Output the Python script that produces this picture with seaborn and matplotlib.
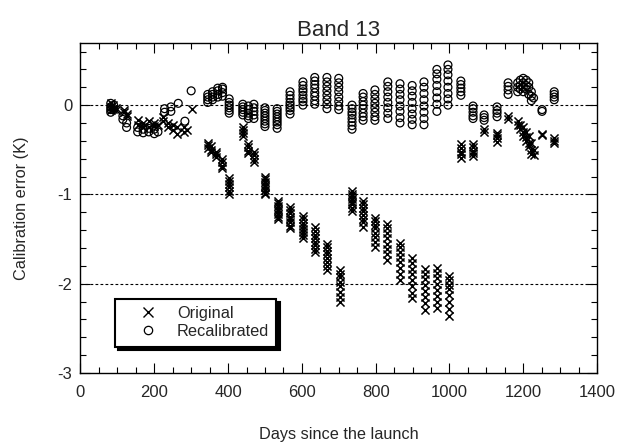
import matplotlib
matplotlib.use("Agg")
import matplotlib.pyplot as plt
from matplotlib.lines import Line2D
from matplotlib.ticker import MultipleLocator
import seaborn as sns
import pandas as pd

# ---------------- data ----------------
orig_days = [
    82, 82, 82, 88, 88, 95, 95,
    118, 118, 125, 125,
    155, 155, 170, 170, 185, 185, 200, 200, 210,
    225, 225, 238, 238, 250, 250, 262, 262,
    280, 280, 290,
    302,
    345, 345, 345, 355, 355, 355, 368, 368, 368, 383, 383, 383, 383,
    403, 403, 403, 403, 403, 403,
    440, 440, 440, 440, 455, 455, 455, 455, 470, 470, 470, 470,
    500, 500, 500, 500, 500, 500, 500, 500,
    535, 535, 535, 535, 535, 535, 535, 535,
    568, 568, 568, 568, 568, 568, 568, 568,
    603, 603, 603, 603, 603, 603, 603, 603,
    636, 636, 636, 636, 636, 636, 636, 636,
    668, 668, 668, 668, 668, 668, 668, 668,
    703, 703, 703, 703, 703, 703, 703, 703,
    735, 735, 735, 735, 735, 735, 735, 735,
    766, 766, 766, 766, 766, 766, 766, 766,
    798, 798, 798, 798, 798, 798, 798, 798,
    832, 832, 832, 832, 832, 832, 832, 832,
    866, 866, 866, 866, 866, 866, 866, 866,
    899, 899, 899, 899, 899, 899, 899, 899,
    934, 934, 934, 934, 934, 934, 934, 934,
    966, 966, 966, 966, 966, 966, 966, 966,
    1000, 1000, 1000, 1000, 1000, 1000, 1000, 1000,
    1030, 1030, 1030, 1030, 1030,
    1064, 1064, 1064, 1064, 1064,
    1094, 1094,
    1129, 1129, 1129, 1129,
    1159, 1159,
    1185, 1185, 1192, 1192, 1200, 1200, 1200, 1208, 1208, 1208,
    1215, 1215, 1215, 1222, 1222, 1222, 1228, 1228,
    1251, 1251,
    1284, 1284, 1284,
]
orig_vals = [
    0.02, -0.02, -0.05, 0.0, -0.04, -0.03, -0.06,
    -0.05, -0.08, -0.10, -0.12,
    -0.17, -0.22, -0.20, -0.25, -0.18, -0.24, -0.20, -0.23, -0.22,
    -0.13, -0.18, -0.20, -0.25, -0.22, -0.28, -0.25, -0.32,
    -0.24, -0.30, -0.28,
    -0.04,
    -0.42, -0.45, -0.48, -0.46, -0.50, -0.53, -0.52, -0.55, -0.58, -0.60, -0.64, -0.68, -0.70,
    -0.82, -0.85, -0.88, -0.92, -0.96, -1.00,
    -0.25, -0.28, -0.31, -0.35, -0.43, -0.47, -0.51, -0.54, -0.52, -0.56, -0.60, -0.64,
    -0.80, -0.83, -0.86, -0.89, -0.92, -0.95, -0.98, -1.00,
    -1.07, -1.10, -1.13, -1.16, -1.19, -1.22, -1.25, -1.28,
    -1.14, -1.17, -1.21, -1.25, -1.28, -1.31, -1.35, -1.38,
    -1.24, -1.28, -1.32, -1.35, -1.39, -1.42, -1.46, -1.49,
    -1.37, -1.41, -1.45, -1.49, -1.53, -1.57, -1.61, -1.65,
    -1.55, -1.59, -1.63, -1.67, -1.71, -1.76, -1.80, -1.85,
    -1.85, -1.89, -1.93, -1.98, -2.03, -2.09, -2.15, -2.21,
    -0.96, -0.99, -1.02, -1.05, -1.08, -1.11, -1.15, -1.19,
    -1.07, -1.11, -1.15, -1.19, -1.23, -1.27, -1.31, -1.36,
    -1.26, -1.30, -1.34, -1.38, -1.43, -1.48, -1.53, -1.59,
    -1.33, -1.38, -1.43, -1.49, -1.55, -1.61, -1.67, -1.74,
    -1.54, -1.59, -1.64, -1.70, -1.76, -1.82, -1.89, -1.96,
    -1.71, -1.77, -1.83, -1.89, -1.96, -2.03, -2.10, -2.16,
    -1.83, -1.89, -1.95, -2.01, -2.08, -2.15, -2.22, -2.29,
    -1.82, -1.88, -1.94, -2.00, -2.07, -2.14, -2.21, -2.27,
    -1.91, -1.96, -2.01, -2.06, -2.13, -2.20, -2.28, -2.36,
    -0.44, -0.48, -0.52, -0.55, -0.59,
    -0.43, -0.47, -0.51, -0.54, -0.57,
    -0.27, -0.30,
    -0.31, -0.34, -0.37, -0.41,
    -0.12, -0.15,
    -0.18, -0.22, -0.22, -0.27, -0.25, -0.30, -0.35, -0.30, -0.36, -0.40,
    -0.35, -0.42, -0.46, -0.42, -0.50, -0.55, -0.50, -0.56,
    -0.32, -0.34,
    -0.37, -0.40, -0.42,
]

recal_days = [
    82, 82, 82, 82, 90, 90,
    115, 115, 125, 125,
    155, 155, 170, 170, 185, 185, 200, 200, 210,
    228, 228, 245, 245, 265,
    283,
    300,
    345, 345, 345, 345, 358, 358, 358, 358, 372, 372, 372, 372, 385, 385, 385, 385,
    403, 403, 403, 403, 403, 403,
    440, 440, 440, 440, 440, 455, 455, 455, 455, 455, 470, 470, 470, 470, 470,
    500, 500, 500, 500, 500, 500, 500, 500,
    533, 533, 533, 533, 533, 533, 533, 533,
    568, 568, 568, 568, 568, 568, 568, 568,
    603, 603, 603, 603, 603, 603, 603, 603,
    635, 635, 635, 635, 635, 635, 635, 635,
    668, 668, 668, 668, 668, 668, 668, 668,
    700, 700, 700, 700, 700, 700, 700, 700,
    736, 736, 736, 736, 736, 736, 736, 736,
    766, 766, 766, 766, 766, 766, 766, 766,
    798, 798, 798, 798, 798, 798, 798, 798,
    833, 833, 833, 833, 833, 833, 833, 833,
    866, 866, 866, 866, 866, 866, 866, 866,
    899, 899, 899, 899, 899, 899, 899, 899,
    931, 931, 931, 931, 931, 931, 931, 931,
    966, 966, 966, 966, 966, 966, 966, 966,
    996, 996, 996, 996, 996, 996, 996, 996,
    1031, 1031, 1031, 1031, 1031,
    1064, 1064, 1064, 1064, 1064,
    1094, 1094, 1094,
    1129, 1129, 1129, 1129,
    1159, 1159, 1159, 1159,
    1185, 1185, 1185, 1192, 1192, 1192, 1200, 1200, 1200, 1200,
    1208, 1208, 1208, 1215, 1215, 1215, 1222, 1222, 1222, 1228,
    1251, 1251,
    1284, 1284, 1284, 1284,
]
recal_vals = [
    0.02, -0.02, -0.05, -0.08, 0.0, -0.05,
    -0.12, -0.16, -0.20, -0.25,
    -0.25, -0.30, -0.27, -0.31, -0.26, -0.30, -0.27, -0.32, -0.30,
    -0.04, -0.08, -0.02, -0.07, 0.02,
    -0.18,
    0.16,
    0.03, 0.06, 0.09, 0.12, 0.06, 0.09, 0.12, 0.15, 0.09, 0.12, 0.16, 0.19, 0.10, 0.14, 0.18, 0.20,
    0.07, 0.03, 0.0, -0.03, -0.06, -0.09,
    0.01, -0.02, -0.05, -0.08, -0.11, -0.01, -0.05, -0.09, -0.12, -0.15, 0.01, -0.03, -0.07, -0.11, -0.15,
    -0.03, -0.06, -0.09, -0.12, -0.15, -0.18, -0.21, -0.24,
    -0.04, -0.07, -0.10, -0.13, -0.16, -0.19, -0.22, -0.26,
    0.15, 0.11, 0.07, 0.03, 0.0, -0.03, -0.06, -0.10,
    0.26, 0.22, 0.18, 0.15, 0.11, 0.07, 0.04, 0.0,
    0.31, 0.27, 0.23, 0.19, 0.14, 0.10, 0.05, 0.01,
    0.31, 0.26, 0.21, 0.16, 0.11, 0.06, 0.01, -0.04,
    0.30, 0.25, 0.20, 0.15, 0.09, 0.04, -0.01, -0.05,
    0.0, -0.04, -0.08, -0.11, -0.15, -0.19, -0.23, -0.27,
    0.13, 0.09, 0.04, 0.0, -0.04, -0.09, -0.13, -0.17,
    0.17, 0.12, 0.07, 0.02, -0.03, -0.08, -0.13, -0.17,
    0.26, 0.21, 0.15, 0.09, 0.03, -0.03, -0.09, -0.15,
    0.24, 0.18, 0.12, 0.06, -0.01, -0.07, -0.14, -0.20,
    0.22, 0.16, 0.10, 0.03, -0.04, -0.10, -0.16, -0.22,
    0.26, 0.20, 0.13, 0.06, -0.01, -0.08, -0.15, -0.22,
    0.40, 0.35, 0.29, 0.22, 0.15, 0.08, 0.01, -0.07,
    0.45, 0.40, 0.34, 0.27, 0.20, 0.13, 0.07, 0.0,
    0.27, 0.23, 0.19, 0.15, 0.11,
    -0.01, -0.04, -0.08, -0.12, -0.15,
    -0.11, -0.14, -0.17,
    -0.02, -0.06, -0.09, -0.13,
    0.25, 0.21, 0.17, 0.12,
    0.20, 0.25, 0.15, 0.22, 0.28, 0.18, 0.25, 0.30, 0.20, 0.15,
    0.28, 0.22, 0.18, 0.25, 0.20, 0.12, 0.15, 0.10, 0.05, 0.08,
    -0.05, -0.07,
    0.15, 0.12, 0.09, 0.06,
]

series_labels = ["Original", "Recalibrated"]
title_text = "Band 13"
x_label = "Days since the launch"
y_label = "Calibration error (K)"
x_ticks = [0, 200, 400, 600, 800, 1000, 1200, 1400]
y_ticks = [-3, -2, -1, 0]
grid_levels = [0, -1, -2]

# ---------------- plot ----------------
sns.set_style("white")
plt.rcParams["font.family"] = ["Liberation Sans", "DejaVu Sans"]

fig = plt.figure(figsize=(6.19, 4.44), dpi=100)
ax = fig.add_axes([0.130, 0.160, 0.8345, 0.744])

df_o = pd.DataFrame({"day": orig_days, "err": orig_vals})
df_r = pd.DataFrame({"day": recal_days, "err": recal_vals})

for lv in grid_levels:
    ax.axhline(lv, color="black", lw=0.8, ls=(0, (2.5, 2)), zorder=0.5)

sns.scatterplot(data=df_o, x="day", y="err", ax=ax, marker="x", color="black",
                s=34, linewidth=1.1, zorder=3)
sns.scatterplot(data=df_r, x="day", y="err", ax=ax, marker="o", color="black",
                facecolors="none", edgecolor="black", s=32, linewidth=0.9,
                zorder=3)

ax.set_xlim(0, 1400)
ax.set_ylim(-3, 0.7)
ax.set_xticks(x_ticks)
ax.set_yticks(y_ticks)
ax.set_yticklabels([str(v) for v in y_ticks])
ax.xaxis.set_minor_locator(MultipleLocator(50))
ax.yaxis.set_minor_locator(MultipleLocator(0.2))
ax.tick_params(which="both", direction="in", top=True, right=True,
               bottom=True, left=True, color="black", width=0.8)
ax.tick_params(which="major", length=7, labelsize=12)
ax.tick_params(axis="x", which="major", pad=9)
ax.tick_params(axis="y", which="major", pad=6)
ax.tick_params(which="minor", length=4)
for sp in ax.spines.values():
    sp.set_color("black")
    sp.set_linewidth(1.0)

ax.set_title(title_text, fontsize=16, pad=5)
ax.set_xlabel(x_label, fontsize=11.7, labelpad=19)
ax.set_ylabel(y_label, fontsize=11.7, labelpad=20)

handles = [
    Line2D([], [], marker="x", color="black", ls="none", markersize=7, mew=1.0),
    Line2D([], [], marker="o", color="black", mfc="none", ls="none", markersize=6, mew=0.9),
]
leg = ax.legend(handles, series_labels, loc="lower left",
                bbox_to_anchor=(0.066, 0.08), borderaxespad=0,
                frameon=True, fancybox=False,
                shadow={"color": "black", "alpha": 1.0, "ox": 2.2, "oy": -2.2},
                edgecolor="black", fontsize=11.8, handletextpad=0.15,
                borderpad=0.45, labelspacing=0.2, handlelength=3.2)
leg.get_frame().set_linewidth(1.5)
leg.get_frame().set_alpha(1)

fig.savefig("out.png", dpi=100)
